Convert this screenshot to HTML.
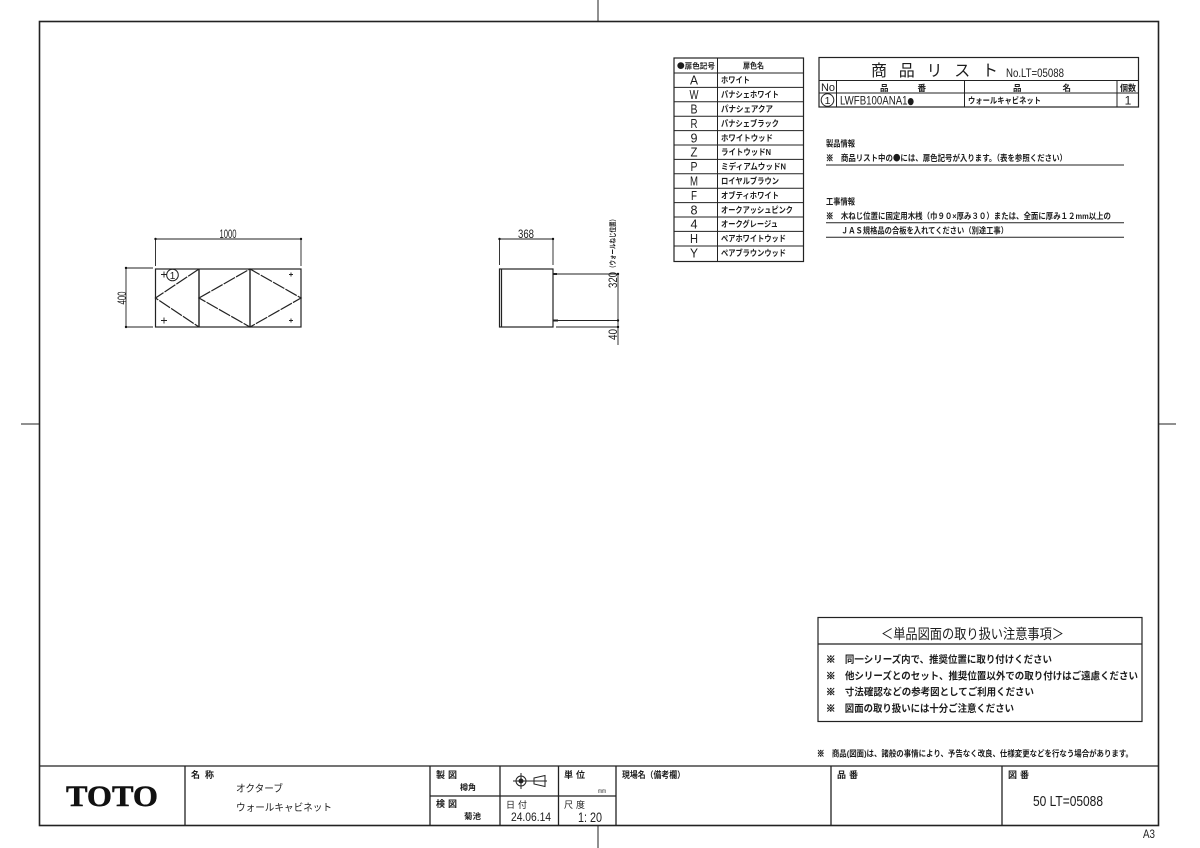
<!DOCTYPE html>
<html lang="ja"><head><meta charset="utf-8"><title>LT=05088</title>
<style>
html,body{margin:0;padding:0;background:#fff;width:1200px;height:848px;overflow:hidden}
svg{display:block}
text{font-family:"Liberation Sans","Noto Sans CJK JP",sans-serif;fill:#1c1c1c}
.j{font-weight:700}
.l{stroke:#222;fill:none}
.c{text-anchor:middle}
.k{font-family:"Noto Sans CJK JP",sans-serif;font-weight:900;stroke:#1c1c1c;stroke-width:.6}
.b{font-family:"Noto Sans CJK JP",sans-serif;font-weight:900}
</style></head><body>
<svg width="1200" height="848" viewBox="0 0 1200 848" xmlns="http://www.w3.org/2000/svg">
<!-- frame -->
<rect class="l" x="39.5" y="21.5" width="1119" height="804" stroke-width="1.6"/>
<g class="l" stroke-width="1">
<path d="M598 0V21M598 826V848M21 424H39M1159 424H1176"/>
</g>
<!-- title block -->
<g class="l" stroke-width="1.3">
<path d="M39 766H1158M185 766V825M430 766V825M500 766V825M558.500 766V825M616 766V825M831 766V825M1002 766V825M430 796H616"/>
</g>
<text x="66" y="806" font-size="30" style="font-family:'Liberation Serif',serif;font-weight:700;fill:#111;stroke:#111;stroke-width:.5" textLength="92" lengthAdjust="spacingAndGlyphs">TOTO</text>
<text class="j" x="191" y="778" font-size="9" textLength="23" >名 称</text>
<text x="236" y="792" font-size="10" textLength="47" lengthAdjust="spacingAndGlyphs">オクターブ</text>
<text x="236" y="811" font-size="10" textLength="96" lengthAdjust="spacingAndGlyphs">ウォールキャビネット</text>
<text class="j" x="436" y="778" font-size="9" textLength="21">製 図</text>
<text class="j" x="460" y="790" font-size="8" textLength="16" lengthAdjust="spacingAndGlyphs">樽角</text>
<text class="j" x="436" y="807" font-size="9" textLength="21">検 図</text>
<text class="j" x="464" y="819" font-size="8" textLength="17" lengthAdjust="spacingAndGlyphs">菊池</text>
<text x="506" y="808" font-size="9" textLength="21">日 付</text>
<text x="511" y="821" font-size="12" textLength="40" lengthAdjust="spacingAndGlyphs">24.06.14</text>
<text class="j" x="564" y="778" font-size="9" textLength="21">単 位</text>
<text x="598" y="793" font-size="6" textLength="8" lengthAdjust="spacingAndGlyphs">mm</text>
<text x="564" y="808" font-size="9" textLength="21">尺 度</text>
<text x="578" y="822" font-size="14" textLength="24" lengthAdjust="spacingAndGlyphs">1: 20</text>
<text class="j" x="622" y="778" font-size="9" textLength="63" lengthAdjust="spacingAndGlyphs">現場名（備考欄）</text>
<text class="j" x="837" y="778" font-size="9" textLength="21">品 番</text>
<text class="j" x="1008" y="778" font-size="9" textLength="21">図 番</text>
<text x="1033" y="806" font-size="15" textLength="70" lengthAdjust="spacingAndGlyphs">50 LT=05088</text>
<text x="1143" y="838" font-size="12" textLength="12" lengthAdjust="spacingAndGlyphs">A3</text>
<!-- projection symbol -->
<g class="l" stroke-width="1">
<circle cx="521" cy="781" r="5"/><circle cx="521" cy="781" r="2" fill="#222"/>
<path d="M513 781H547M521 773V789M534 778L545 775.500V786.500L534 784Z"/>
</g>
<!-- plan view -->
<g class="l" stroke-width="1.200">
<rect x="155.500" y="269" width="145.500" height="58"/>
<path d="M199 269V327M250 269V327" stroke-width="1.400"/>
<path d="M199 269L155.500 298L199 327M199 298L250 269L301 298L250 327Z" stroke-dasharray="13 1.200"/>
</g>
<g class="l" stroke-width="0.900">
<path d="M155.500 239H301M155.500 239V266M301 239V266M126 268H153M126 327H153M126 268V327"/>
<path d="M161 274.500H167M164 271.500V277.500M161 320.500H167M164 317.500V323.500M289 274.500H293M291 272.500V276.500M289 320.500H293M291 318.500V322.500"/>
<circle cx="172.500" cy="275" r="5.800" stroke-width="1"/>
</g>
<g fill="#111"><circle cx="155.500" cy="239" r="1.200"/><circle cx="301" cy="239" r="1.200"/><circle cx="126" cy="268" r="1.200"/><circle cx="126" cy="327" r="1.200"/></g>
<text class="c" x="172.500" y="279" font-size="10">1</text>
<text class="c" x="228" y="238" font-size="12" textLength="17" lengthAdjust="spacingAndGlyphs">1000</text>
<text class="c" transform="translate(126,298) rotate(-90)" font-size="12" textLength="13" lengthAdjust="spacingAndGlyphs">400</text>
<!-- side view -->
<g class="l" stroke-width="1.200">
<rect x="499.500" y="269" width="53.500" height="58"/>
<path d="M501.500 269V327"/>
<path d="M553 274H557M553 320.500H558" stroke-width="2"/>
</g>
<g class="l" stroke-width="0.900">
<path d="M499.500 239H553M499.500 239V265M553 239V265M553 274H619M553 320.500H619M556 327H619M618 274V345"/>
</g>
<g fill="#111"><circle cx="499.500" cy="239" r="1.200"/><circle cx="553" cy="239" r="1.200"/><circle cx="618" cy="274" r="1.200"/><circle cx="618" cy="320.500" r="1.200"/><circle cx="618" cy="327" r="1.200"/></g>
<text class="c" x="526" y="238" font-size="12" textLength="16" lengthAdjust="spacingAndGlyphs">368</text>
<text transform="translate(617,288) rotate(-90)" font-size="12" textLength="16" lengthAdjust="spacingAndGlyphs">320</text>
<text class="j" transform="translate(615,271) rotate(-90)" font-size="7" textLength="55" lengthAdjust="spacingAndGlyphs">（ウォールねじ位置）</text>
<text transform="translate(617,340) rotate(-90)" font-size="12" textLength="11" lengthAdjust="spacingAndGlyphs">40</text>
<!-- color table -->
<g class="l" stroke-width="1">
<rect x="674" y="58" width="129.500" height="203.500" stroke-width="1.200"/>
<path d="M717.500 58V261.500M674 73H803.500M674 87.400H803.500M674 101.800H803.500M674 116.200H803.500M674 130.600H803.500M674 145H803.500M674 159.400H803.500M674 173.800H803.500M674 188.200H803.500M674 202.600H803.500M674 217H803.500M674 231.400H803.500M674 246H803.500"/>
</g>
<g font-size="8.500" class="j">
<text x="677" y="68.500" font-size="7.500" textLength="38" lengthAdjust="spacingAndGlyphs"><tspan class="b">●</tspan>扉色記号</text>
<text x="743" y="68.500" font-size="8" textLength="21" lengthAdjust="spacingAndGlyphs">扉色名</text>
<text x="721" y="83" textLength="29" lengthAdjust="spacingAndGlyphs">ホワイト</text>
<text x="721" y="97.500" textLength="58" lengthAdjust="spacingAndGlyphs">パナシェホワイト</text>
<text x="721" y="112" textLength="52" lengthAdjust="spacingAndGlyphs">パナシェアクア</text>
<text x="721" y="126.400" textLength="58" lengthAdjust="spacingAndGlyphs">パナシェブラック</text>
<text x="721" y="140.800" textLength="52" lengthAdjust="spacingAndGlyphs">ホワイトウッド</text>
<text x="721" y="155.200" textLength="50" lengthAdjust="spacingAndGlyphs">ライトウッドN</text>
<text x="721" y="169.600" textLength="65" lengthAdjust="spacingAndGlyphs">ミディアムウッドN</text>
<text x="721" y="184" textLength="58" lengthAdjust="spacingAndGlyphs">ロイヤルブラウン</text>
<text x="721" y="198.400" textLength="58" lengthAdjust="spacingAndGlyphs">オブティホワイト</text>
<text x="721" y="212.800" textLength="72" lengthAdjust="spacingAndGlyphs">オークアッシュピンク</text>
<text x="721" y="227.200" textLength="57" lengthAdjust="spacingAndGlyphs">オークグレージュ</text>
<text x="721" y="241.600" textLength="65" lengthAdjust="spacingAndGlyphs">ペアホワイトウッド</text>
<text x="721" y="256" textLength="65" lengthAdjust="spacingAndGlyphs">ペアブラウンウッド</text>
</g>
<g font-size="13" class="c">
<text x="694" y="84.500" textLength="8" lengthAdjust="spacingAndGlyphs">A</text><text x="694" y="99" textLength="9" lengthAdjust="spacingAndGlyphs">W</text><text x="694" y="113.500" textLength="7" lengthAdjust="spacingAndGlyphs">B</text><text x="694" y="127.900" textLength="7" lengthAdjust="spacingAndGlyphs">R</text><text x="694" y="142.300" textLength="7" lengthAdjust="spacingAndGlyphs">9</text><text x="694" y="156.700" textLength="7" lengthAdjust="spacingAndGlyphs">Z</text><text x="694" y="171.100" textLength="7" lengthAdjust="spacingAndGlyphs">P</text><text x="694" y="185.500" textLength="8" lengthAdjust="spacingAndGlyphs">M</text><text x="694" y="199.900" textLength="6" lengthAdjust="spacingAndGlyphs">F</text><text x="694" y="214.300" textLength="7" lengthAdjust="spacingAndGlyphs">8</text><text x="694" y="228.700" textLength="7" lengthAdjust="spacingAndGlyphs">4</text><text x="694" y="243.100" textLength="8" lengthAdjust="spacingAndGlyphs">H</text><text x="694" y="257.500" textLength="8" lengthAdjust="spacingAndGlyphs">Y</text>
</g>
<!-- product list -->
<g class="l" stroke-width="1">
<rect x="819" y="57.500" width="319.500" height="49.500" stroke-width="1.200"/>
<path d="M819 80.500H1138.500M819 93H1138.500M836.500 80.500V107M964.500 80.500V107M1117 80.500V107"/>
<circle cx="827.500" cy="100" r="6.300"/>
</g>
<text x="871" y="76" font-size="16" textLength="127" style="font-weight:400">商 品 リ ス ト</text>
<text x="1006" y="77" font-size="12" textLength="58" lengthAdjust="spacingAndGlyphs">No.LT=05088</text>
<text x="821" y="91" font-size="11" textLength="14" lengthAdjust="spacingAndGlyphs">No</text>
<text class="j" x="880" y="91" font-size="8.500" textLength="46">品　　番</text>
<text class="j" x="1013" y="91" font-size="8.500" textLength="58">品　　名</text>
<text class="j" x="1120" y="91" font-size="8.500" textLength="16" lengthAdjust="spacingAndGlyphs">個数</text>
<text class="c" x="827.500" y="104" font-size="10.500">1</text>
<text x="840" y="104.500" font-size="12" textLength="74" lengthAdjust="spacingAndGlyphs">LWFB100ANA1<tspan class="b" font-size="8">●</tspan></text>
<text class="j" x="968" y="103.500" font-size="8.500" textLength="73" lengthAdjust="spacingAndGlyphs">ウォールキャビネット</text>
<text x="1128" y="104.500" class="c" font-size="12">1</text>
<!-- notes -->
<g class="j" font-size="8.500">
<text x="826" y="146.500" textLength="29" lengthAdjust="spacingAndGlyphs">製品情報</text>
<text x="826" y="161" textLength="241" lengthAdjust="spacingAndGlyphs"><tspan class="k">※</tspan>　商品リスト中の<tspan class="b">●</tspan>には、扉色記号が入ります。（表を参照ください）</text>
<text x="826" y="204.500" textLength="29" lengthAdjust="spacingAndGlyphs">工事情報</text>
<text x="826" y="219" textLength="285" lengthAdjust="spacingAndGlyphs"><tspan class="k">※</tspan>　木ねじ位置に固定用木桟（巾９０×厚み３０）または、全面に厚み１２mm以上の</text>
<text x="841" y="233.500" textLength="167" lengthAdjust="spacingAndGlyphs">ＪＡＳ規格品の合板を入れてください（別途工事）</text>
</g>
<path class="l" d="M826 165H1124M826 222.800H1124M826 237.300H1124" stroke-width="1"/>
<!-- notice box -->
<g class="l" stroke-width="1.200">
<rect x="818" y="617.500" width="324" height="104"/>
<path d="M818 644H1142"/>
</g>
<text x="881" y="639" font-size="14" textLength="183" lengthAdjust="spacingAndGlyphs">＜単品図面の取り扱い注意事項＞</text>
<g class="j" font-size="10">
<text x="826" y="663" textLength="226" lengthAdjust="spacingAndGlyphs"><tspan class="k">※</tspan>　同一シリーズ内で、推奨位置に取り付けください</text>
<text x="826" y="679.500" textLength="312" lengthAdjust="spacingAndGlyphs"><tspan class="k">※</tspan>　他シリーズとのセット、推奨位置以外での取り付けはご遠慮ください</text>
<text x="826" y="695.500" textLength="208" lengthAdjust="spacingAndGlyphs"><tspan class="k">※</tspan>　寸法確認などの参考図としてご利用ください</text>
<text x="826" y="712" textLength="188" lengthAdjust="spacingAndGlyphs"><tspan class="k">※</tspan>　図面の取り扱いには十分ご注意ください</text>
</g>
<text class="j" x="817" y="756.500" font-size="8.500" textLength="316" lengthAdjust="spacingAndGlyphs"><tspan class="k">※</tspan>　商品(図面)は、諸般の事情により、予告なく改良、仕様変更などを行なう場合があります。</text>
</svg>
</body></html>
